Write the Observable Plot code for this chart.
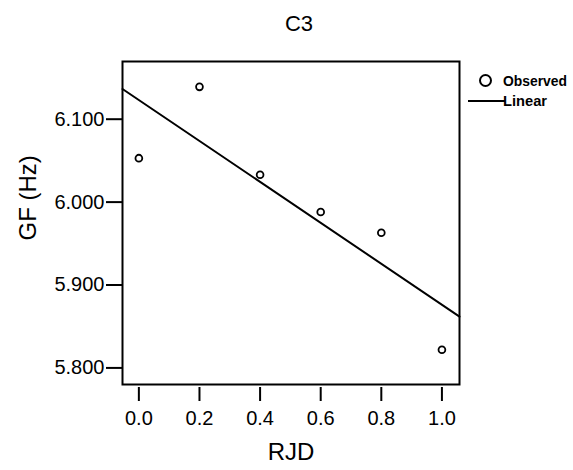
<!DOCTYPE html>
<html>
<head>
<meta charset="utf-8">
<script src="https://cdn.jsdelivr.net/npm/d3@7"></script>
<script src="https://cdn.jsdelivr.net/npm/@observablehq/plot@0.6"></script>
<style>
  html, body { margin: 0; padding: 0; background: #fff; }
  #chart { width: 573px; height: 470px; }
</style>
</head>
<body>
<div id="chart"></div>
<script>
// Data
const rjd = [0.0, 0.2, 0.4, 0.6, 0.8, 1.0];
const gf = [6.053, 6.139, 6.033, 5.988, 5.963, 5.822];
const xTicks = [0.0, 0.2, 0.4, 0.6, 0.8, 1.0];
const yTicks = [5.8, 5.9, 6.0, 6.1];
const xDomain = [-0.054, 1.058];
const yDomain = [5.780, 6.1696];
const titleText = "C3";
const xLabel = "RJD";
const yLabel = "GF (Hz)";
const legendLabels = ["Observed", "Linear"];

const observed = rjd.map((x, i) => ({x, y: gf[i]}));

// Least-squares linear fit of the observed points
const mx = d3.mean(rjd), my = d3.mean(gf);
const slope = d3.sum(rjd, (x, i) => (x - mx) * (gf[i] - my)) / d3.sum(rjd, x => (x - mx) ** 2);
const intercept = my - slope * mx;
const fit = xDomain.map(x => ({x, y: intercept + slope * x}));

const font = "Liberation Sans, Arial, sans-serif";

const legend = (index, scales, values, dims) => {
  const g = d3.create("svg:g");
  const x0 = dims.width - dims.marginRight;
  const y0 = dims.marginTop;
  g.append("circle").attr("cx", x0 + 26.5).attr("cy", y0 + 19.5).attr("r", 5.5)
    .attr("fill", "none").attr("stroke", "black").attr("stroke-width", 2);
  g.append("line").attr("x1", x0 + 9).attr("x2", x0 + 46).attr("y1", y0 + 40).attr("y2", y0 + 40)
    .attr("stroke", "black").attr("stroke-width", 2);
  const lengths = [64, 44];
  legendLabels.forEach((t, i) => {
    g.append("text").attr("x", x0 + 44).attr("y", y0 + 19.5 + i * 20.5)
      .attr("dy", "0.35em")
      .attr("text-anchor", "start")
      .attr("textLength", lengths[i])
      .attr("lengthAdjust", "spacingAndGlyphs")
      .attr("font-family", "Liberation Sans, Arial, sans-serif")
      .attr("font-weight", "bold").attr("font-size", 15)
      .attr("fill", "black").text(t);
  });
  return g.node();
};

const chart = Plot.plot({
  width: 573,
  height: 470,
  marginLeft: 122,
  marginRight: 114,
  marginTop: 61,
  marginBottom: 86,
  style: {fontFamily: font, fontSize: "20px", background: "#fff", color: "black", overflow: "visible"},
  x: {domain: xDomain},
  y: {domain: yDomain},
  marks: [
    Plot.axisY({ticks: yTicks, tickFormat: d3.format(".3f"), tickSize: 16, tickPadding: 2,
      fontSize: 20, strokeWidth: 2, label: null}),
    Plot.axisX({ticks: xTicks, tickFormat: d3.format(".1f"), tickSize: 14, tickPadding: 9,
      dy: 3, fontSize: 20, strokeWidth: 2, label: null}),
    Plot.frame({stroke: "black", strokeWidth: 2}),
    Plot.line(fit, {x: "x", y: "y", stroke: "black", strokeWidth: 2}),
    Plot.dot(observed, {x: "x", y: "y", r: 3.4, stroke: "black", strokeWidth: 1.8, fill: "none"}),
    Plot.text([yLabel], {frameAnchor: "left", lineAnchor: "middle", rotate: -90, dx: -94, dy: 17.5, fontSize: 24, fill: "black"}),
    Plot.text([xLabel], {frameAnchor: "bottom", lineAnchor: "middle", dy: 68, fontSize: 24, fill: "black"}),
    Plot.text([titleText], {frameAnchor: "top", lineAnchor: "middle", dx: 8, dy: -38, fontSize: 22, fill: "black"}),
    legend
  ]
});

document.getElementById("chart").appendChild(chart);
</script>
</body>
</html>
